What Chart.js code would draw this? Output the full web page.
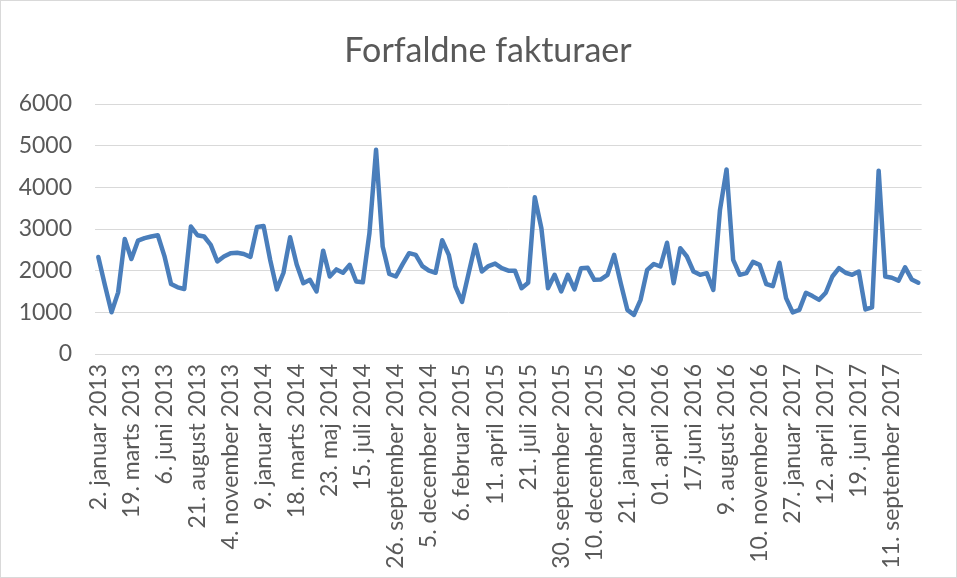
<!DOCTYPE html>
<html>
<head>
<meta charset="utf-8">
<title>Forfaldne fakturaer</title>
<script src="https://cdn.jsdelivr.net/npm/chart.js@4.4.0/dist/chart.umd.min.js"></script>
<style>
  html, body { margin: 0; padding: 0; background: #fff; }
  #wrap { width: 957px; height: 578px; box-sizing: border-box; border: 1px solid #d9d9d9; }
</style>
</head>
<body>
<div id="wrap"><canvas id="invoiceChart" width="955" height="576"></canvas></div>
<script>
// labels shown on the x axis, one for every 5th period
const tickLabels = [
  "2. januar 2013", "19. marts 2013", "6. juni 2013", "21. august 2013", "4. november 2013",
  "9. januar 2014", "18. marts 2014", "23. maj 2014", "15. juli 2014", "26. september 2014",
  "5. december 2014", "6. februar 2015", "11. april 2015", "21. juli 2015", "30. september 2015",
  "10. december 2015", "21. januar 2016", "01. april 2016", "17.juni 2016", "9. august 2016",
  "10. november 2016", "27. januar 2017", "12. april 2017", "19. juni 2017", "11. september 2017"
];

// overdue invoices per period
const overdue = [
  2330, 1650, 1000, 1480, 2760, 2280, 2720, 2780, 2820, 2850,
  2350, 1680, 1600, 1560, 3060, 2850, 2820, 2620, 2220, 2340,
  2420, 2430, 2400, 2330, 3050, 3070, 2250, 1550, 1950, 2800,
  2150, 1700, 1780, 1500, 2480, 1860, 2030, 1950, 2140, 1740,
  1720, 2900, 4900, 2580, 1920, 1860, 2150, 2420, 2380, 2110,
  2000, 1950, 2730, 2380, 1620, 1250, 1940, 2620, 1980, 2110,
  2170, 2060, 2000, 2000, 1580, 1710, 3760, 3020, 1580, 1900,
  1500, 1900, 1550, 2060, 2070, 1780, 1790, 1900, 2380, 1700,
  1060, 940, 1300, 2020, 2160, 2100, 2670, 1700, 2540, 2340,
  1980, 1900, 1940, 1540, 3450, 4430, 2260, 1900, 1940, 2210,
  2140, 1680, 1630, 2190, 1340, 1000, 1060, 1470, 1390, 1300,
  1470, 1860, 2060, 1950, 1900, 1980, 1070, 1120, 4400, 1860,
  1830, 1760, 2080, 1790, 1710
];

const periods = overdue.map((v, i) => i);

const chartTitle = "Forfaldne fakturaer";
const textColor = "#595959";
const gridColor = "#d9d9d9";
const fontFamily = "Lato, 'Open Sans', sans-serif";

Chart.defaults.font.family = fontFamily;
Chart.defaults.color = textColor;

// title centred on the whole chart box, like the spreadsheet does it
const titlePlugin = {
  id: "sheetTitle",
  afterDraw(chart) {
    const ctx = chart.ctx;
    ctx.save();
    ctx.font = "34px " + fontFamily;
    ctx.fillStyle = textColor;
    ctx.textAlign = "center";
    ctx.textBaseline = "alphabetic";
    ctx.fillText(chartTitle, 487, 61);
    ctx.restore();
  }
};

new Chart(document.getElementById("invoiceChart"), {
  type: "line",
  data: {
    labels: periods,
    datasets: [{
      label: chartTitle,
      data: overdue,
      borderColor: "#4a7ebb",
      borderWidth: 4.5,
      pointRadius: 0,
      tension: 0,
      borderJoinStyle: "round",
      borderCapStyle: "round",
      fill: false
    }]
  },
  options: {
    responsive: false,
    animation: false,
    layout: { padding: { left: 0, right: 16, top: 103, bottom: 0 } },
    plugins: {
      legend: { display: false },
      tooltip: { enabled: false },
      title: { display: false }
    },
    scales: {
      x: {
        offset: true,
        grid: { display: false, drawTicks: false },
        border: { display: true, color: gridColor, width: 1 },
        ticks: {
          autoSkip: false,
          minRotation: 90,
          maxRotation: 90,
          padding: 10,
          font: { size: 23 },
          color: textColor,
          callback: (value, i) => (i % 5 === 0 ? tickLabels[i / 5] : "")
        },
        afterFit: scale => { scale.height = 223; }
      },
      y: {
        min: 0,
        max: 6000,
        ticks: {
          stepSize: 1000,
          padding: 23,
          font: { size: 23 },
          color: textColor,
          callback: value => String(value)
        },
        grid: { color: gridColor, lineWidth: 1, drawTicks: false },
        border: { display: false },
        afterFit: scale => { scale.width = 94; }
      }
    }
  },
  plugins: [titlePlugin]
});
</script>
</body>
</html>
